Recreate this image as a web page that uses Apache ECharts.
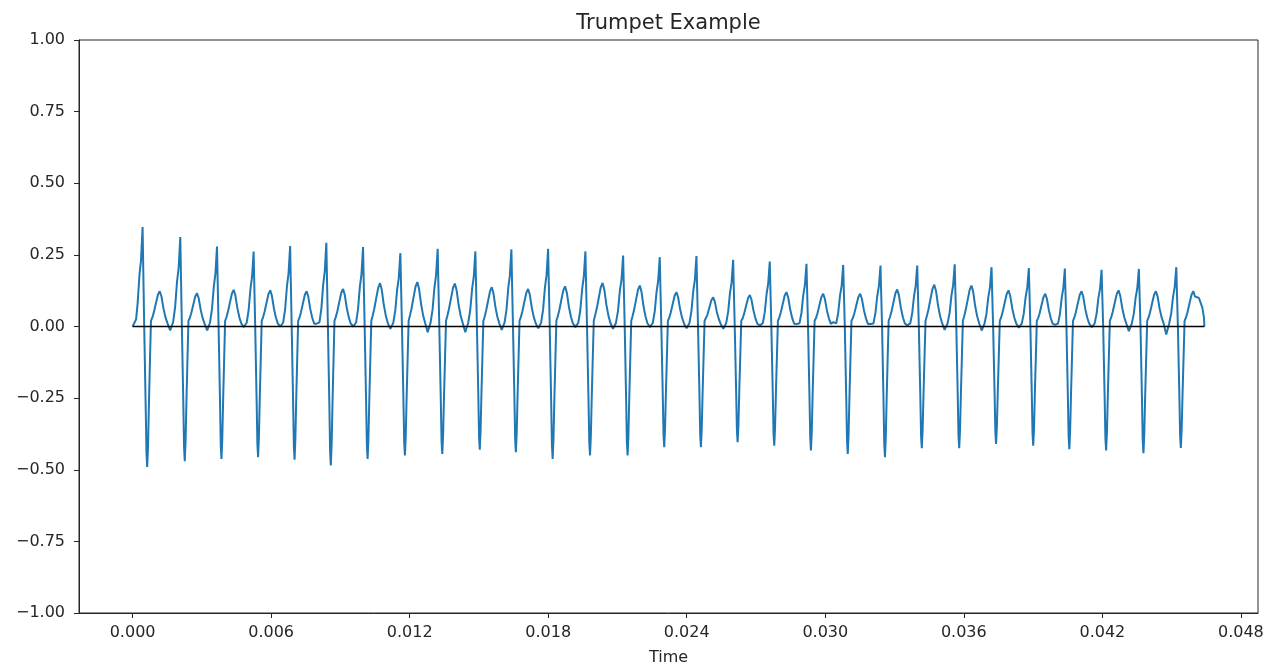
<!DOCTYPE html>
<html>
<head>
<meta charset="utf-8">
<title>Trumpet Example</title>
<script src="https://cdn.jsdelivr.net/npm/echarts@6/dist/echarts.min.js"></script>
<style>
  html, body { margin: 0; padding: 0; background: #fff; }
  #chart { width: 1268px; height: 666px; }
</style>
</head>
<body>
<div id="chart"></div>
<script>
// Waveform of a trumpet tone (seconds vs amplitude), one entry per pitch cycle.
const peakTimes = [0.000433, 0.002066, 0.003656, 0.005242, 0.006823, 0.008391, 0.009981, 0.011597,
  0.013213, 0.014846, 0.016406, 0.017996, 0.019611, 0.021245, 0.022831, 0.024420, 0.026010, 0.027596,
  0.029185, 0.030776, 0.032391, 0.033982, 0.035606, 0.037200, 0.038816, 0.040376, 0.041966, 0.043582, 0.045202];
const peakValues = [0.347, 0.312, 0.279, 0.262, 0.281, 0.292, 0.277, 0.256, 0.271, 0.262, 0.269, 0.271,
  0.262, 0.248, 0.242, 0.246, 0.233, 0.227, 0.219, 0.215, 0.213, 0.213, 0.217, 0.207, 0.204, 0.202, 0.198, 0.201, 0.207];
const troughValues = [-0.49, -0.47, -0.462, -0.456, -0.465, -0.485, -0.462, -0.45, -0.445, -0.43, -0.439, -0.462,
  -0.45, -0.45, -0.421, -0.421, -0.404, -0.416, -0.433, -0.445, -0.456, -0.425, -0.425, -0.41, -0.416, -0.428, -0.433, -0.442, -0.424];
const bumpValues = [0.123, 0.116, 0.128, 0.126, 0.123, 0.131, 0.151, 0.155, 0.15, 0.137, 0.131, 0.14,
  0.152, 0.143, 0.12, 0.102, 0.11, 0.12, 0.114, 0.114, 0.129, 0.146, 0.143, 0.126, 0.114, 0.123, 0.126, 0.123, 0.123];
const dipValues = [-0.014, -0.014, -0.002, 0.0, 0.01, 0.0, -0.008, -0.02, -0.02, -0.012, -0.006, -0.002,
  -0.008, -0.002, -0.006, -0.008, 0.004, 0.009, 0.015, 0.009, 0.004, -0.012, -0.014, -0.004, 0.006, -0.002, -0.016, -0.028, 0.0];

// Shape of one cycle, peak to next peak: phase within the cycle, which level it follows, fraction of it.
// p = this peak, n = trough, b = bump, d = dip, q = next peak, z = absolute value
const shapePhase = [0, 0.019, 0.043, 0.081, 0.103, 0.122, 0.144, 0.168, 0.195, 0.222, 0.257, 0.298,
  0.352, 0.407, 0.455, 0.501, 0.556, 0.610, 0.664, 0.732, 0.810, 0.864, 0.913, 0.957];
const shapeLevel = ['p', 'p', 'z', 'n', 'n', 'n', 'n', 'n', 'n', 'z', 'b', 'b',
  'b', 'b', 'b', 'b', 'b', 'b', 'b', 'd', 'q', 'q', 'q', 'q'];
const shapeFrac = [1, 0.55, 0, 0.55, 0.9, 1, 0.85, 0.55, 0.25, 0.02, 0.25, 0.4,
  0.65, 0.9, 1, 0.85, 0.5, 0.25, 0.08, 1, 0.05, 0.22, 0.5, 0.66];

// Onset before the first peak and the decay after the last bump
const leadTimes = [0, 0.000069, 0.000152, 0.000217, 0.000303, 0.000364];
const leadValues = [0.0, 0.006, 0.025, 0.08, 0.185, 0.23];
const lastCyclePhase = 0.51;
const tailTimes = [0.046180, 0.046328, 0.046397, 0.04642];
const tailValues = [0.10, 0.067, 0.033, 0.0];

const xTickValues = [0, 0.006, 0.012, 0.018, 0.024, 0.030, 0.036, 0.042, 0.048];
const yTickStep = 0.25;
const yMin = -1, yMax = 1;
const baselineValue = 0;

// Assemble the sampled waveform
const wave = [];
leadTimes.forEach((t, k) => wave.push([t, leadValues[k]]));
const nCycles = peakTimes.length;
for (let i = 0; i < nCycles; i++) {
  const period = i < nCycles - 1 ? peakTimes[i + 1] - peakTimes[i] : peakTimes[i] - peakTimes[i - 1];
  for (let j = 0; j < shapePhase.length; j++) {
    if (i === nCycles - 1 && shapePhase[j] > lastCyclePhase) break;
    let level = 1;
    switch (shapeLevel[j]) {
      case 'p': level = peakValues[i]; break;
      case 'n': level = troughValues[i]; break;
      case 'b': level = bumpValues[i]; break;
      case 'd': level = dipValues[i]; break;
      case 'q': level = peakValues[i + 1]; break;
      default: level = 1;
    }
    wave.push([peakTimes[i] + shapePhase[j] * period, shapeFrac[j] * level]);
  }
}
tailTimes.forEach((t, k) => wave.push([t, tailValues[k]]));

const tStart = wave[0][0];
const tEnd = wave[wave.length - 1][0];
const baseline = [[tStart, baselineValue], [tEnd, baselineValue]];
const pad = 0.05 * (tEnd - tStart);

const font = 'DejaVu Sans';
const ink = '#262626';
const plot = { left: 79, top: 40, width: 1179, height: 573 };

const chart = echarts.init(document.getElementById('chart'), null, { renderer: 'canvas' });
chart.setOption({
  animation: false,
  backgroundColor: '#ffffff',
  title: {
    text: 'Trumpet Example',
    left: plot.left + plot.width / 2 - 5,
    textAlign: 'center',
    top: 8,
    textStyle: { fontFamily: font, fontSize: 21, fontWeight: 'normal', color: ink }
  },
  grid: {
    left: plot.left, top: plot.top, width: plot.width, height: plot.height,
    containLabel: false,
    outerBoundsMode: 'none',
    show: true, borderColor: ink, borderWidth: 1, backgroundColor: 'transparent'
  },
  xAxis: {
    type: 'value',
    min: tStart - pad,
    max: tEnd + pad,
    name: 'Time',
    nameLocation: 'middle',
    nameGap: 37,
    nameTextStyle: { fontFamily: font, fontSize: 16, color: ink },
    axisLine: { show: true, onZero: false, lineStyle: { color: ink, width: 1 } },
    axisTick: { show: true, length: 5, customValues: xTickValues, lineStyle: { color: ink } },
    axisLabel: {
      customValues: xTickValues,
      margin: 12,
      fontFamily: font, fontSize: 16, color: ink,
      formatter: v => v.toFixed(3)
    },
    splitLine: { show: false }
  },
  yAxis: {
    type: 'value',
    min: yMin, max: yMax, interval: yTickStep,
    axisLine: { show: true, onZero: false, lineStyle: { color: ink, width: 1 } },
    axisTick: { show: true, length: 5, lineStyle: { color: ink } },
    axisLabel: {
      margin: 14,
      fontFamily: font, fontSize: 16, color: ink,
      formatter: v => v.toFixed(2).replace('-', '\u2212')
    },
    splitLine: { show: false }
  },
  series: [
    {
      name: 'amplitude',
      type: 'line',
      data: wave,
      showSymbol: false,
      smooth: false,
      lineStyle: { color: '#1f77b4', width: 2 },
      z: 2
    },
    {
      name: 'zero',
      type: 'line',
      data: baseline,
      showSymbol: false,
      lineStyle: { color: '#000000', width: 1.6 },
      z: 3
    }
  ]
});
</script>
</body>
</html>
